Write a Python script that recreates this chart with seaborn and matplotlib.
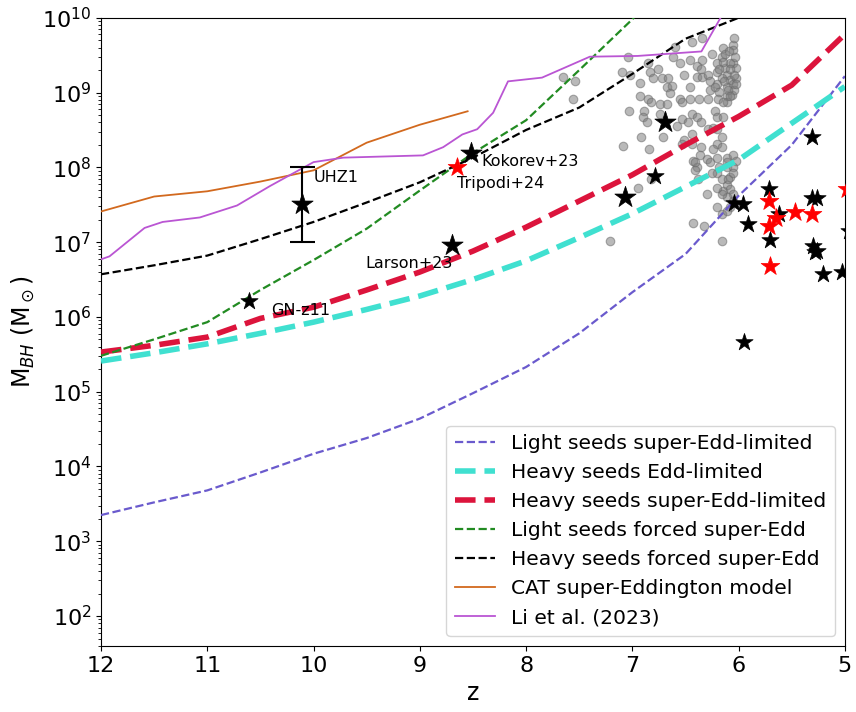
import numpy as np
import pandas as pd
import matplotlib
matplotlib.use("Agg")
import matplotlib.pyplot as plt
import seaborn as sns

# ---------------- model curves (z, log10 M_BH) ----------------
z_std = [12, 11.5, 11, 10.5, 10, 9.5, 9, 8.5, 8, 7.5, 7, 6.5, 6, 5.5, 5]
light_se_limited = [3.35, 3.52, 3.68, 3.92, 4.17, 4.38, 4.64, 4.98, 5.33, 5.78, 6.33, 6.84, 7.62, 8.3, 9.22]
heavy_edd_limited = [5.41, 5.52, 5.64, 5.78, 5.93, 6.1, 6.28, 6.5, 6.75, 7.06, 7.38, 7.74, 8.1, 8.59, 9.08]
heavy_se_limited = [5.53, 5.62, 5.73, 5.98, 6.13, 6.36, 6.6, 6.88, 7.2, 7.55, 7.9, 8.3, 8.68, 9.1, 9.78]

z_light_forced = [12, 11.5, 11, 10.5, 10, 9.5, 9, 8.5, 8, 7.5, 7, 6.8]
light_forced = [5.48, 5.7, 5.93, 6.36, 6.76, 7.18, 7.69, 8.19, 8.63, 9.3, 9.98, 10.3]

z_heavy_forced = [12, 11.5, 11, 10.5, 10, 9.5, 9, 8.5, 8, 7.5, 7, 6.5, 6, 5.9]
heavy_forced = [6.57, 6.69, 6.82, 7.04, 7.27, 7.53, 7.8, 8.13, 8.5, 8.8, 9.25, 9.72, 10.0, 10.1]

z_cat = [12, 11.5, 11, 10.5, 10, 9.5, 9, 8.55]
cat_model = [7.41, 7.61, 7.68, 7.81, 7.96, 8.33, 8.57, 8.75]

z_li = [12, 11.92, 11.59, 11.42, 11.07, 10.72, 10.41, 10.0, 9.72, 8.97, 8.78, 8.6,
        8.46, 8.31, 8.17, 7.85, 7.4, 6.95, 6.35, 6.15]
li2023 = [6.77, 6.81, 7.19, 7.27, 7.33, 7.49, 7.75, 8.07, 8.13, 8.16, 8.27, 8.44,
          8.51, 8.73, 9.15, 9.2, 9.48, 9.49, 9.55, 10.05]

# ---------------- grey observed sample (z, log10 M) ----------------
grey_z = [7.54, 7.65, 7.56, 7.04, 7.10, 7.02, 6.93, 6.85, 6.83, 6.76, 6.81, 6.72, 6.66, 6.67, 6.63,
          6.65, 6.62, 6.55, 6.60, 6.44, 6.34, 6.46, 6.51, 6.39, 6.35, 6.34, 6.39, 6.34, 6.29, 6.25,
          6.27, 6.27, 6.46, 6.93, 6.85, 6.55,
          6.20, 6.16, 6.15, 6.05, 6.04, 6.05, 6.13, 6.11, 6.08, 6.05, 6.16, 6.20, 6.11, 6.05, 6.02,
          6.08, 6.15, 6.22, 6.18, 6.11, 6.06, 6.20, 6.02, 6.04,
          6.13, 6.08, 6.04, 6.18, 6.10, 6.03, 6.14, 6.09, 6.02, 6.19,
          6.82, 6.74, 6.67, 7.03, 6.89, 6.90, 6.86, 6.74, 6.92, 6.84, 7.09, 6.71, 6.58, 6.53, 6.48,
          6.53, 6.46, 6.37, 6.29, 6.11, 6.08, 6.15, 6.44, 6.39, 6.35, 6.29, 6.22, 6.20, 6.15, 6.24,
          6.20, 6.16, 6.20, 6.16, 6.44, 6.51, 6.44, 6.35, 6.36, 6.30, 6.27, 6.43, 6.39, 6.20, 6.11,
          6.05, 6.18, 6.11, 6.24, 6.02,
          6.95, 6.82, 6.41, 6.38, 6.30, 6.20, 6.16, 6.43, 6.33, 7.21, 6.16, 6.20, 6.16, 6.11, 6.15,
          6.08, 6.05, 6.11, 6.16, 6.20, 6.08, 6.11, 6.05, 6.08, 6.11, 6.05,
          6.53, 6.25, 6.10, 6.05, 6.41]
grey_logm = [9.16, 9.21, 8.91, 9.47, 9.28, 9.23, 9.13, 9.39, 9.27, 9.31, 9.19, 9.19, 9.19, 9.08, 9.09,
             9.00, 9.48, 9.40, 9.61, 9.67, 9.73, 9.44, 9.24, 9.35, 9.31, 9.43, 9.21, 9.21, 9.24, 9.52,
             9.15, 9.03, 9.07, 8.95, 8.91, 8.91,
             9.40, 9.48, 9.60, 9.64, 9.73, 9.57, 9.33, 9.24, 9.17, 9.11, 9.20, 9.11, 9.08, 9.40, 9.33,
             9.40, 9.41, 9.08, 9.01, 8.95, 8.97, 9.28, 9.20, 9.24,
             9.51, 9.31, 9.04, 9.31, 9.04, 9.47, 9.15, 9.55, 9.11, 8.91,
             8.87, 8.85, 8.85, 8.75, 8.76, 8.67, 8.61, 8.72, 8.40, 8.25, 8.28, 8.41, 8.55, 8.64, 8.60,
             8.88, 8.91, 8.92, 8.91, 8.88, 8.95, 8.87, 8.72, 8.67, 8.61, 8.51, 8.76, 8.67, 8.67, 8.53,
             8.51, 8.40, 8.31, 8.27, 8.44, 8.37, 8.31, 8.27, 8.17, 8.11, 8.07, 8.08, 8.01, 8.13, 8.13,
             8.17, 8.01, 8.07, 8.24, 8.08,
             7.73, 7.84, 7.97, 7.84, 7.65, 7.47, 7.37, 7.25, 7.21, 7.01, 7.01, 7.93, 7.84, 7.77, 7.68,
             7.71, 7.64, 7.60, 7.64, 7.73, 7.87, 8.00, 8.00, 7.47, 7.41, 7.55,
             8.31, 7.93, 7.84, 7.93, 8.07]

# ---------------- individual objects (stars) ----------------
big_star_z = [10.11, 8.70, 8.52, 7.07, 6.69]
big_star_logm = [7.51, 6.96, 8.19, 7.61, 8.60]
small_star_z = [10.61, 6.79, 6.04, 5.96, 5.91, 5.95, 5.71, 5.62, 5.70, 5.31, 5.26,
                5.30, 5.28, 5.26, 5.21, 5.31, 5.03, 4.96]
small_star_logm = [6.21, 7.89, 7.53, 7.51, 7.24, 5.67, 7.71, 7.37, 7.03, 7.59, 7.59,
                   6.95, 6.87, 6.88, 6.57, 8.41, 6.60, 7.15]
red_star_z = [8.65, 5.71, 5.65, 5.71, 5.47, 5.31, 5.70, 4.98]
red_star_logm = [8.01, 7.55, 7.32, 7.21, 7.40, 7.37, 6.68, 7.71]

# UHZ1 error bar
uhz1_z = 10.11
uhz1_logm = 7.51
uhz1_low, uhz1_high = 7.0, 8.0

labels = ["Light seeds super-Edd-limited", "Heavy seeds Edd-limited",
          "Heavy seeds super-Edd-limited", "Light seeds forced super-Edd",
          "Heavy seeds forced super-Edd", "CAT super-Eddington model", "Li et al. (2023)"]

fig, ax = plt.subplots(figsize=(8.56, 7.12), dpi=100)
fig.subplots_adjust(left=0.118, right=0.987, top=0.975, bottom=0.093)

sns.scatterplot(x=grey_z, y=10 ** np.array(grey_logm), ax=ax, color="grey", alpha=0.55,
                s=38, edgecolor="dimgrey", linewidth=0.8, zorder=2, legend=False)

def line(z, lm, color, ls, lw, label):
    sns.lineplot(x=z, y=10 ** np.array(lm), ax=ax, color=color, linestyle=ls, lw=lw,
                 label=label, sort=False, estimator=None, zorder=3)

line(z_std, light_se_limited, "slateblue", "--", 1.6, labels[0])
line(z_std, heavy_edd_limited, "turquoise", "--", 4.0, labels[1])
line(z_std, heavy_se_limited, "crimson", "--", 4.0, labels[2])
line(z_light_forced, light_forced, "forestgreen", "--", 1.6, labels[3])
line(z_heavy_forced, heavy_forced, "black", "--", 1.6, labels[4])
line(z_cat, cat_model, "chocolate", "-", 1.3, labels[5])
line(z_li, li2023, "mediumorchid", "-", 1.3, labels[6])

ax.errorbar([uhz1_z], [10 ** uhz1_logm],
            yerr=[[10 ** uhz1_logm - 10 ** uhz1_low], [10 ** uhz1_high - 10 ** uhz1_logm]],
            fmt="none", ecolor="black", elinewidth=1.5, capsize=9, capthick=1.5, zorder=4)

sns.scatterplot(x=big_star_z, y=10 ** np.array(big_star_logm), ax=ax, marker="*", color="black",
                s=260, edgecolor="black", linewidth=0.5, zorder=6, legend=False)
sns.scatterplot(x=small_star_z, y=10 ** np.array(small_star_logm), ax=ax, marker="*", color="black",
                s=170, edgecolor="black", linewidth=0.5, zorder=6, legend=False)
sns.scatterplot(x=red_star_z, y=10 ** np.array(red_star_logm), ax=ax, marker="*", color="red",
                s=200, edgecolor="red", linewidth=0.5, zorder=6, legend=False)

tfs = 11.5
ax.text(10.0, 10 ** 7.87, "UHZ1", fontsize=tfs, va="center", ha="left")
ax.text(8.42, 10 ** 8.08, "Kokorev+23", fontsize=tfs, va="center", ha="left")
ax.text(8.65, 10 ** 7.79, "Tripodi+24", fontsize=tfs, va="center", ha="left")
ax.text(9.51, 10 ** 6.72, "Larson+23", fontsize=tfs, va="center", ha="left")
ax.text(10.4, 10 ** 6.08, "GN-z11", fontsize=tfs, va="center", ha="left")

ax.set_yscale("log")
ax.set_xlim(12, 5)
ax.set_ylim(40, 1e10)
ax.set_xlabel("z", fontsize=17)
ax.set_ylabel(r"M$_{BH}$ (M$_\odot$)", fontsize=17)
ax.tick_params(axis="both", which="major", labelsize=16)

ax.legend(loc="lower right", fontsize=14.6, frameon=True)

fig.savefig("out.png", dpi=100)
